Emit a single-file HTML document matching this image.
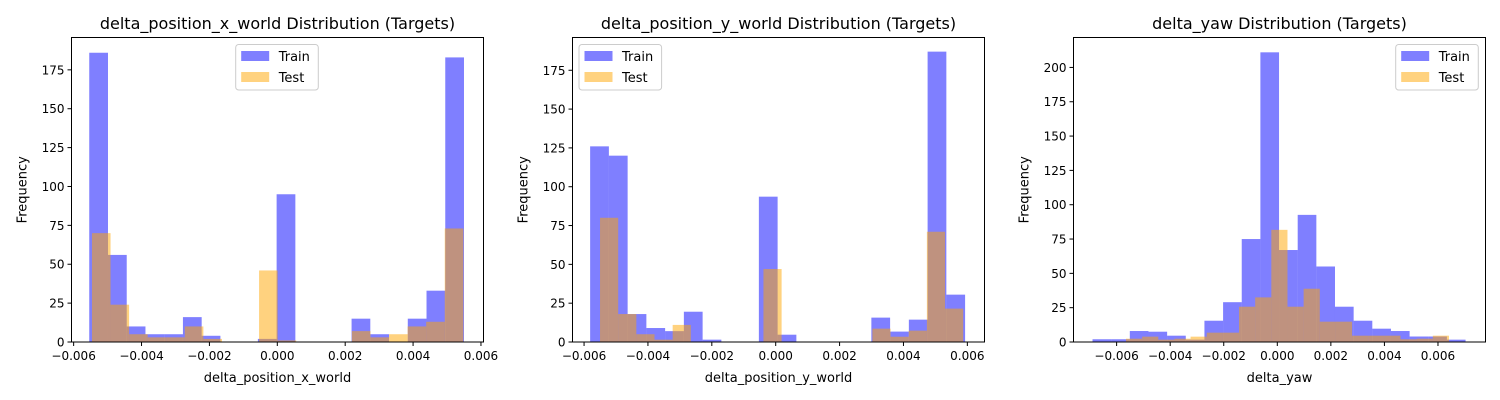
<!DOCTYPE html>
<html><head><meta charset="utf-8"><style>
body{margin:0;background:#fff;}
svg{display:block;font-family:"DejaVu Sans","Liberation Sans",sans-serif;}
</style></head><body>
<svg id="c" width="1500" height="400" viewBox="0 0 1500 400"></svg>
<script>
// Panel 1 data
const p1TrainCounts=[186,56,10,5,5,16,4,0,0,2,95,0,0,0,15,5,0,15,33,183];
const p1TrainRange=[-0.00554,0.0055];
const p1TestCounts=[70,24,5,3,3,10,2,0,0,46,1,0,0,0,7,3,5,10,13,73];
const p1TestRange=[-0.00546,0.00548];
const p1XTicks=[-0.006,-0.004,-0.002,0,0.002,0.004,0.006];
const p1YTicks=[0,25,50,75,100,125,150,175];
// Panel 2 data
const p2TrainCounts=[126,120,18,9,7,19.5,1.5,0,0,93.6,4.7,0,0,0,0,15.7,6.7,14.4,187,30.5];
const p2TrainRange=[-0.00581,0.00593];
const p2TestCounts=[80,18,5,1.5,11,0,0,0,0,47,0,0,0,0,0,8.6,3.4,7.3,71,21.5];
const p2TestRange=[-0.0055,0.00587];
const p2XTicks=[-0.006,-0.004,-0.002,0,0.002,0.004,0.006];
const p2YTicks=[0,25,50,75,100,125,150,175];
// Panel 3 data
const p3TrainCounts=[2,2,8,7.5,4.6,1.7,15.5,29,75,211,67,92.6,55,25.7,15.5,9.7,8,4,4,1.7];
const p3TrainRange=[-0.0069,0.00703];
const p3TestCounts=[2.4,3.9,1.7,2.4,3.9,6.8,6.8,25.7,32.5,81.7,25.7,38.8,14.8,14.8,4.6,4.6,4.6,2,2.4,4.6];
const p3TestRange=[-0.00565,0.00641];
const p3XTicks=[-0.006,-0.004,-0.002,0,0.002,0.004,0.006];
const p3YTicks=[0,25,50,75,100,125,150,175,200];

const NS="http://www.w3.org/2000/svg";
const svgEl=document.getElementById('c');
function mk(tag,attrs,parent){const e=document.createElementNS(NS,tag);for(const k in attrs)e.setAttribute(k,attrs[k]);(parent||svgEl).appendChild(e);return e;}
function fmt(v){const s=Math.abs(v).toFixed(3);return (v<0?"\u2212":"")+s;}

const panels=[
 {l:71.5,r:483.5,x0:277.3,pxPer:33944,ymax:195.8,train:p1TrainCounts,trR:p1TrainRange,test:p1TestCounts,teR:p1TestRange,xt:p1XTicks,yt:p1YTicks,title:"delta_position_x_world Distribution (Targets)",xl:"delta_position_x_world",lx:235.7},
 {l:572.5,r:984.5,x0:775.7,pxPer:31940,ymax:196.1,train:p2TrainCounts,trR:p2TrainRange,test:p2TestCounts,teR:p2TestRange,xt:p2XTicks,yt:p2YTicks,title:"delta_position_y_world Distribution (Targets)",xl:"delta_position_y_world",lx:579},
 {l:1073.5,r:1485.5,x0:1277.3,pxPer:26780,ymax:221.8,train:p3TrainCounts,trR:p3TrainRange,test:p3TestCounts,teR:p3TestRange,xt:p3XTicks,yt:p3YTicks,title:"delta_yaw Distribution (Targets)",xl:"delta_yaw",lx:1395.7}
];
const plotTop=37.5,plotBot=342;
panels.forEach((p,pi)=>{
  const g=mk('g',{});
  
  
  const X=v=>p.x0+v*p.pxPer;
  const Y=c=>plotBot-c/p.ymax*(plotBot-plotTop);
  function hist(counts,range,color,name){
    const w=(range[1]-range[0])/counts.length;
    counts.forEach((c,i)=>{
      if(c<=0)return;
      const x1=X(range[0]+i*w),x2=X(range[0]+(i+1)*w);
      const r=mk('rect',{x:x1,y:Y(c),width:x2-x1,height:plotBot-Y(c),fill:color,'fill-opacity':0.5},g);
      
      
    });
  }
  hist(p.train,p.trR,'#0000ff','train');
  hist(p.test,p.teR,'#ffa500','test');
  const fr=mk('rect',{x:p.l,y:plotTop,width:p.r-p.l,height:plotBot-plotTop,fill:'none',stroke:'#000','stroke-width':1},g);
  
  
  p.xt.forEach(v=>{
    const x=X(v);
    mk('line',{x1:x,x2:x,y1:plotBot,y2:plotBot+4,stroke:'#000'},g);
    const t=mk('text',{x:x,y:plotBot+18,'text-anchor':'middle','font-size':12,fill:'#000'},g);
    t.textContent=fmt(v);
    
    
  });
  p.yt.forEach(v=>{
    const y=Y(v);
    mk('line',{x1:p.l-4,x2:p.l,y1:y,y2:y,stroke:'#000'},g);
    const t=mk('text',{x:p.l-7,y:y+4.5,'text-anchor':'end','font-size':12,fill:'#000'},g);
    t.textContent=v;
    
    
  });
  const ti=mk('text',{x:(p.l+p.r)/2,y:29,'text-anchor':'middle','font-size':16,fill:'#000'},g);
  ti.textContent=p.title;
  
  
  const xl=mk('text',{x:(p.l+p.r)/2,y:382,'text-anchor':'middle','font-size':13,fill:'#000'},g);
  xl.textContent=p.xl;
  
  
  const yx=p.l-45, yy=(plotTop+plotBot)/2;
  const yl=mk('text',{x:yx,y:yy,'text-anchor':'middle','font-size':13,fill:'#000',transform:`rotate(-90 ${yx} ${yy})`},g);
  yl.textContent='Frequency';
  
  
  const lg=mk('g',{},g);
  
  
  mk('rect',{x:p.lx,y:44.5,width:82.6,height:45.5,rx:3,fill:'#fff','fill-opacity':0.8,stroke:'#ccc'},lg);
  mk('rect',{x:p.lx+5.5,y:51,width:28,height:10,fill:'#0000ff','fill-opacity':0.5},lg);
  mk('rect',{x:p.lx+5.5,y:72,width:28,height:10,fill:'#ffa500','fill-opacity':0.5},lg);
  const t1=mk('text',{x:p.lx+43,y:61,'font-size':13,fill:'#000'},lg);t1.textContent='Train';
  
  
  const t2=mk('text',{x:p.lx+43,y:82,'font-size':13,fill:'#000'},lg);t2.textContent='Test';
  
  
});
</script>
</body></html>
